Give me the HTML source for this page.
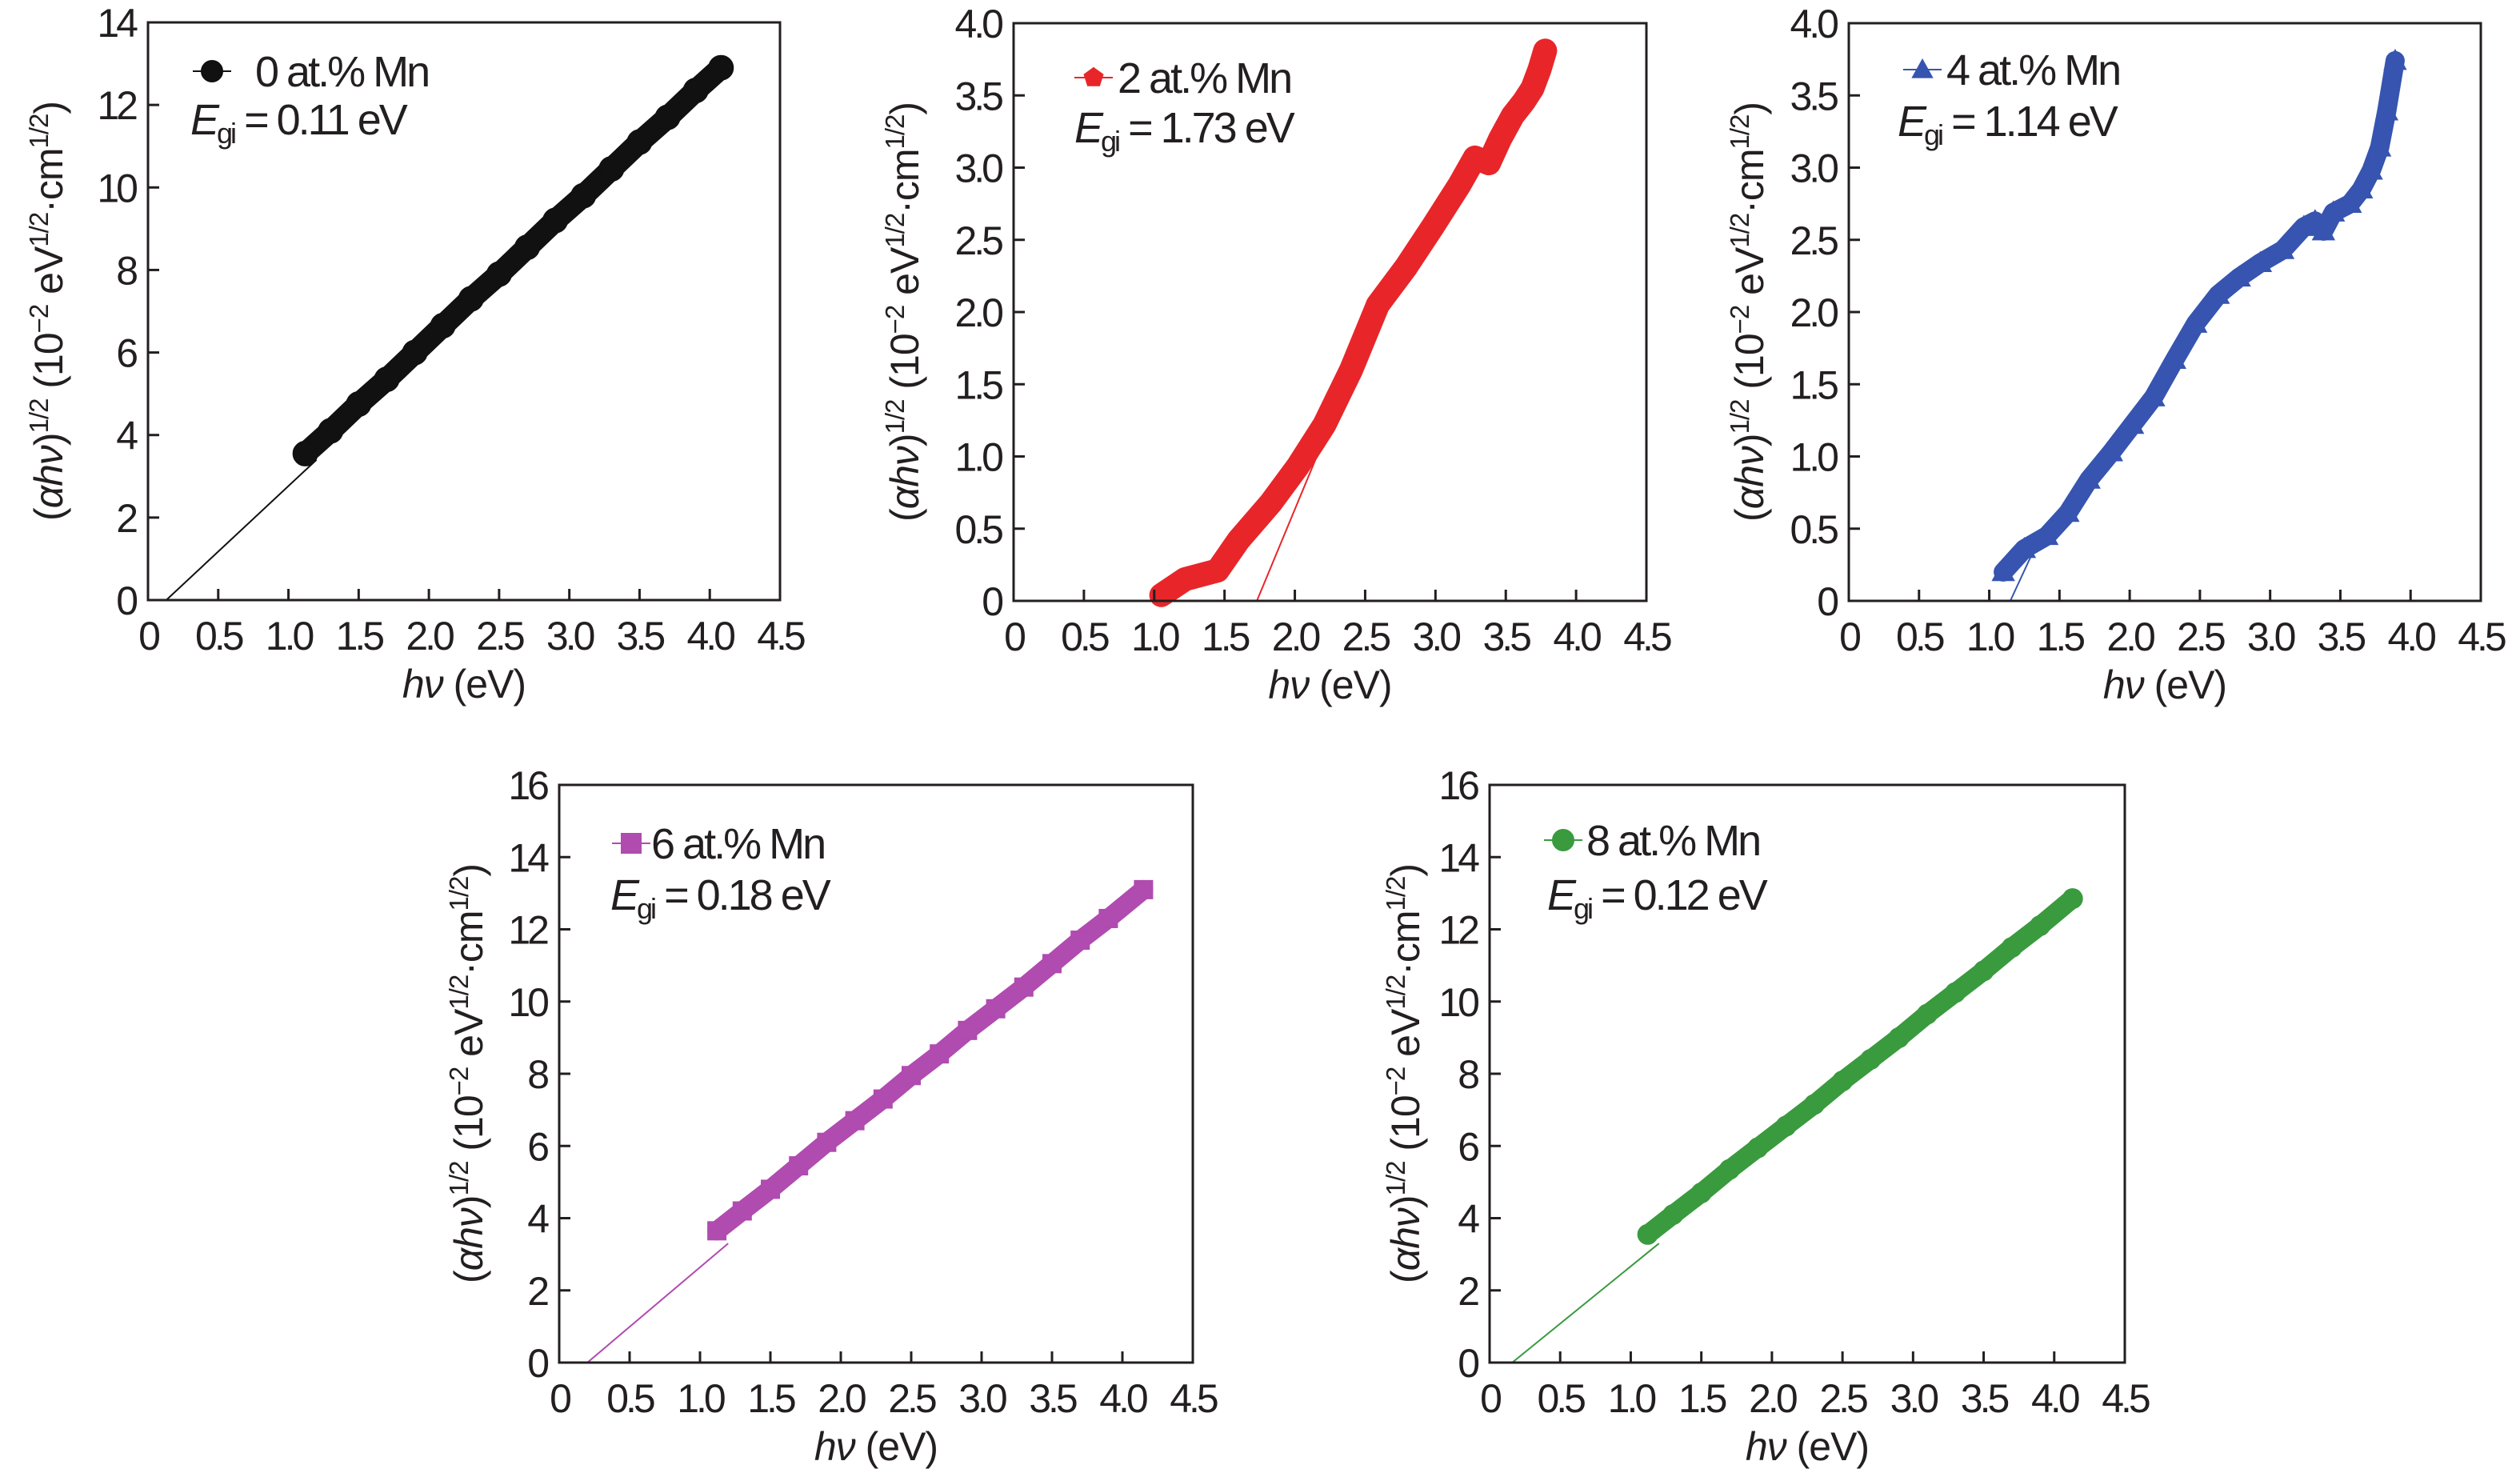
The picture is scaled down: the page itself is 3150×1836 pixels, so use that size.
<!DOCTYPE html>
<html><head><meta charset="utf-8">
<style>
html,body{margin:0;padding:0;background:#fff;}
svg{display:block;font-family:"Liberation Sans","DejaVu Sans",sans-serif;}
</style></head>
<body>
<svg id="fig" width="3150" height="1836" viewBox="0 0 3150 1836" xmlns="http://www.w3.org/2000/svg"></svg>
<script>
// ---- data arrays ----
const xTicks = [0,0.5,1.0,1.5,2.0,2.5,3.0,3.5,4.0,4.5];
const xTickLabels = ["0","0.5","1.0","1.5","2.0","2.5","3.0","3.5","4.0","4.5"];

const mn0X = [1.12,1.3,1.5,1.7,1.9,2.1,2.3,2.5,2.7,2.9,3.1,3.3,3.5,3.7,3.9,4.08];
const mn0Y = [3.55,4.1,4.75,5.35,6.0,6.65,7.3,7.9,8.55,9.2,9.8,10.45,11.1,11.7,12.35,12.9];
const mn0FitX = [0.13,1.2];
const mn0FitY = [0,3.4];

const mn2X = [1.05,1.22,1.45,1.6,1.83,2.02,2.21,2.4,2.59,2.79,2.98,3.17,3.28,3.38,3.46,3.55,3.63,3.69,3.74,3.78];
const mn2Y = [0.04,0.15,0.21,0.42,0.68,0.93,1.22,1.6,2.05,2.31,2.59,2.88,3.07,3.03,3.2,3.36,3.46,3.55,3.68,3.81];
const mn2FitX = [1.73,2.22];
const mn2FitY = [0,1.15];

const mn4X = [1.1,1.25,1.41,1.56,1.71,1.87,2.02,2.17,2.32,2.47,2.63,2.78,2.93,3.09,3.24,3.32,3.38,3.45,3.57,3.65,3.72,3.78,3.83,3.89];
const mn4Y = [0.2,0.36,0.45,0.61,0.84,1.03,1.22,1.41,1.67,1.92,2.12,2.24,2.34,2.43,2.59,2.63,2.56,2.69,2.75,2.85,2.98,3.14,3.39,3.74];
const mn4FitX = [1.15,1.35];
const mn4FitY = [0,0.42];

const mn6X = [1.12,1.3,1.5,1.7,1.9,2.1,2.3,2.5,2.7,2.9,3.1,3.3,3.5,3.7,3.9,4.15];
const mn6Y = [3.65,4.2,4.8,5.45,6.1,6.7,7.3,7.95,8.55,9.2,9.8,10.4,11.05,11.7,12.3,13.1];
const mn6FitX = [0.2,1.2];
const mn6FitY = [0,3.3];

const mn8X = [1.12,1.3,1.5,1.7,1.9,2.1,2.3,2.5,2.7,2.9,3.1,3.3,3.5,3.7,3.9,4.13];
const mn8Y = [3.55,4.1,4.7,5.35,5.95,6.55,7.15,7.8,8.4,9.0,9.65,10.25,10.85,11.5,12.1,12.85];
const mn8FitX = [0.16,1.2];
const mn8FitY = [0,3.3];

const panels = [
 {name:"0",  L:185, R:975,  T:28,  B:750,  yMax:14, yTicks:[0,2,4,6,8,10,12,14], yLabels:["0","2","4","6","8","10","12","14"], xs:mn0X, ys:mn0Y, fx:mn0FitX, fy:mn0FitY, color:"#111111", marker:"circle", size:15, band:28, egi:"0.11", leg:[80,61,134,53,140], ytx:61},
 {name:"2",  L:1267,R:2058, T:29,  B:751,  yMax:4, yTicks:[0,0.5,1,1.5,2,2.5,3,3.5,4], yLabels:["0","0.5","1.0","1.5","2.0","2.5","3.0","3.5","4.0"], xs:mn2X, ys:mn2Y, fx:mn2FitX, fy:mn2FitY, color:"#e8262a", marker:"pent", size:13, band:30, egi:"1.73", leg:[100,68,130,76,149], ytx:1131},
 {name:"4",  L:2311,R:3101, T:29,  B:751,  yMax:4, yTicks:[0,0.5,1,1.5,2,2.5,3,3.5,4], yLabels:["0","0.5","1.0","1.5","2.0","2.5","3.0","3.5","4.0"], xs:mn4X, ys:mn4Y, fx:mn4FitX, fy:mn4FitY, color:"#3654b0", marker:"tri", size:13, band:24, egi:"1.14", leg:[92,58,122,61,141], ytx:2187},
 {name:"6",  L:699, R:1491, T:981, B:1703, yMax:16, yTicks:[0,2,4,6,8,10,12,14,16], yLabels:["0","2","4","6","8","10","12","14","16"], xs:mn6X, ys:mn6Y, fx:mn6FitX, fy:mn6FitY, color:"#b04bb0", marker:"square", size:11, band:24, egi:"0.18", leg:[90,73,115,64,156], ytx:586},
 {name:"8",  L:1862,R:2656, T:981, B:1703, yMax:16, yTicks:[0,2,4,6,8,10,12,14,16], yLabels:["0","2","4","6","8","10","12","14","16"], xs:mn8X, ys:mn8Y, fx:mn8FitX, fy:mn8FitY, color:"#3a9a3e", marker:"circle", size:12, band:24, egi:"0.12", leg:[92,69,121,72,156], ytx:1757}
];

const NS = "http://www.w3.org/2000/svg";
const svg = document.getElementById("fig");
function mk(tag, attrs, parent){
  const e = document.createElementNS(NS, tag);
  for (const k in attrs) e.setAttribute(k, attrs[k]);
  (parent||svg).appendChild(e);
  return e;
}
function markerShape(type, cx, cy, s, color, parent){
  let e;
  if (type==="circle") e = mk("circle",{cx:cx,cy:cy,r:s,fill:color,stroke:color,"stroke-width":2},parent);
  else if (type==="square") e = mk("rect",{x:cx-s,y:cy-s,width:2*s,height:2*s,fill:color,stroke:color,"stroke-width":2},parent);
  else if (type==="tri") e = mk("polygon",{points:`${cx},${cy-s} ${cx+s},${cy+s*0.8} ${cx-s},${cy+s*0.8}`,fill:color,stroke:color,"stroke-width":2},parent);
  else {
    const pts=[];
    for(let i=0;i<5;i++){const a=-Math.PI/2+i*2*Math.PI/5;pts.push((cx+s*Math.cos(a)).toFixed(1)+","+(cy+s*Math.sin(a)).toFixed(1));}
    e = mk("polygon",{points:pts.join(" "),fill:color,stroke:color,"stroke-width":2},parent);
  }
  return e;
}

panels.forEach(p=>{
  const g = mk("g",{});
  
  
  const sx = v => p.L + (v/4.5)*(p.R-p.L);
  const sy = v => p.B - (v/p.yMax)*(p.B-p.T);

  const fit = mk("line",{x1:sx(p.fx[0]),y1:sy(p.fy[0]),x2:sx(p.fx[1]),y2:sy(p.fy[1]),stroke:p.color,"stroke-width":2},g);
  
  

  const d = p.xs.map((x,i)=>(i?"L":"M")+sx(x).toFixed(1)+","+sy(p.ys[i]).toFixed(1)).join(" ");
  const band = mk("path",{d:d,fill:"none",stroke:p.color,"stroke-width":p.band,"stroke-linejoin":"round","stroke-linecap":"round"},g);
  
  
  p.xs.forEach((x,i)=>{
    const m = markerShape(p.marker, sx(x), sy(p.ys[i]), p.size, p.color, g);
    
    
  });

  const fr = mk("rect",{x:p.L,y:p.T,width:p.R-p.L,height:p.B-p.T,fill:"none",stroke:"#231f20","stroke-width":3},g);
  
  

  xTicks.forEach((t,i)=>{
    const X = sx(t);
    if(i>0 && i<xTicks.length-1){
      const tk = mk("line",{x1:X,y1:p.B,x2:X,y2:p.B-14,stroke:"#231f20","stroke-width":3},g);
      
      
    }
    const tl = mk("text",{x:X,y:p.B+62,"text-anchor":"middle","font-size":50,fill:"#231f20","letter-spacing":"-4"},g);
    tl.textContent = xTickLabels[i];
    
    
  });
  p.yTicks.forEach((t,i)=>{
    const Y = sy(t);
    if(i>0 && i<p.yTicks.length-1){
      const tk = mk("line",{x1:p.L,y1:Y,x2:p.L+14,y2:Y,stroke:"#231f20","stroke-width":3},g);
      
      
    }
    const tl = mk("text",{x:p.L-16,y:Y+18,"text-anchor":"end","font-size":50,fill:"#231f20","letter-spacing":"-4"},g);
    tl.textContent = p.yLabels[i];
    
    
  });

  const xt = mk("text",{x:(p.L+p.R)/2,y:p.B+122,"text-anchor":"middle","font-size":50,fill:"#231f20","letter-spacing":"-1"},g);
  xt.innerHTML = '<tspan font-style="italic">hν</tspan> (eV)';
  
  

  const cy = (p.T+p.B)/2;
  const yt = mk("text",{x:0,y:0,"text-anchor":"middle","font-size":50,fill:"#231f20","letter-spacing":"-1",transform:`translate(${p.ytx+17},${cy}) rotate(-90)`},g);
  yt.innerHTML = '(<tspan font-style="italic">αhν</tspan>)<tspan font-size="33" dy="-18">1/2</tspan><tspan dy="18"> (10</tspan><tspan font-size="33" dy="-18">−2</tspan><tspan dy="18"> eV</tspan><tspan font-size="33" dy="-18">1/2</tspan><tspan dy="18">·cm</tspan><tspan font-size="33" dy="-18">1/2</tspan><tspan dy="18">)</tspan>';
  
  

  const lg = mk("g",{},g);
  
  
  const mx = p.L+p.leg[0], my = p.T+p.leg[1];
  mk("line",{x1:mx-24,y1:my,x2:mx+24,y2:my,stroke:p.color,"stroke-width":2},lg);
  markerShape(p.marker, mx, my, p.marker==="circle"?13:12, p.color, lg);
  const lt = mk("text",{x:p.L+p.leg[2],y:my+19,"font-size":54,fill:"#231f20","letter-spacing":"-3"},lg);
  lt.textContent = p.name+" at.% Mn";
  const et = mk("text",{x:p.L+p.leg[3],y:p.T+p.leg[4],"font-size":54,fill:"#231f20","letter-spacing":"-3"},g);
  et.innerHTML = '<tspan font-style="italic">E</tspan><tspan font-size="36" dy="11">gi</tspan><tspan dy="-11"> = '+p.egi+' eV</tspan>';
  
  
});
</script>
</body></html>
